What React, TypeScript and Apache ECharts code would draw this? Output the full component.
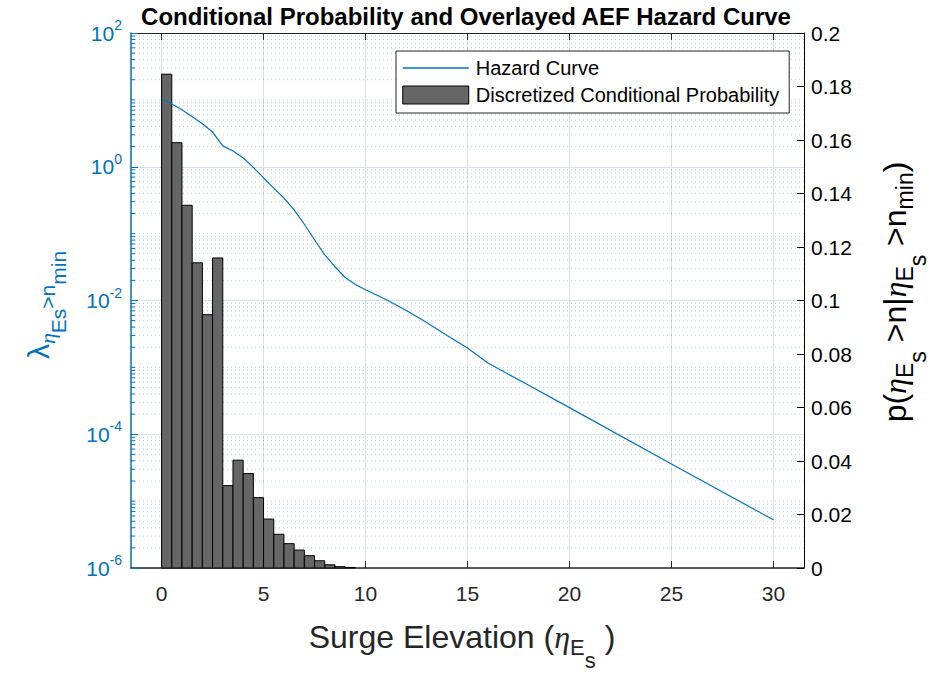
import React, { useEffect, useRef } from "react";
import * as echarts from "echarts";

// ---- data ----
const binLeftEdges = [0, 0.5, 1, 1.5, 2, 2.5, 3, 3.5, 4, 4.5, 5, 5.5, 6, 6.5, 7, 7.5, 8, 8.5, 9];
const binWidth = 0.5;
const condProb = [0.1846, 0.159, 0.1356, 0.1141, 0.0947, 0.1159, 0.0308, 0.0403, 0.0353, 0.0263, 0.0183, 0.0126, 0.0091, 0.0067, 0.0046, 0.0027, 0.0012, 0.0005, 0.0002];

const hazardX = [0, 0.5, 1, 1.5, 2, 2.5, 3, 3.5, 4, 4.5, 5, 5.5, 6, 6.5, 7, 7.5, 8, 8.5, 9, 9.5, 10, 11, 12, 13, 14, 15, 16, 18, 20, 25, 30];
const hazardY = [10.5, 8.7, 7.1, 5.6, 4.4, 3.3, 2.05, 1.72, 1.35, 0.98, 0.68, 0.48, 0.34, 0.226, 0.138, 0.081, 0.048, 0.032, 0.0221, 0.0174, 0.0145, 0.01035, 0.0071, 0.00468, 0.003, 0.00195, 0.00116, 0.00054, 0.00025, 0.000036, 0.00000525];

const xTickValues = [0, 5, 10, 15, 20, 25, 30];
const minorMantissas = [2, 3, 4, 5, 6, 7, 8, 9];
const decades = [-6, -5, -4, -3, -2, -1, 0, 1];

const BLUE = "#0072BD";
const FONT = "'Liberation Sans', Arial, sans-serif";
const SERIF = "'Liberation Serif', serif";
const X_MIN = -1.5;
const X_MAX = 31.5;

export default function App() {
  const ref = useRef<HTMLDivElement>(null);
  useEffect(() => {
    document.body.style.margin = "0";
    if (!ref.current) return;
    const chart = echarts.init(ref.current, null, { renderer: "svg" });

    const histData = binLeftEdges.map((x0, i) => [x0, x0 + binWidth, condProb[i]]);
    const hazardData = hazardX.map((x, i) => [x, hazardY[i]]);
    const minorData: number[][] = [];
    decades.forEach((d) => {
      if (d % 2 !== 0) minorData.push([0, Math.pow(10, d), 1]);
      minorMantissas.forEach((m) => minorData.push([0, m * Math.pow(10, d), 0]));
    });

    const option: any = {
      animation: false,
      backgroundColor: "#ffffff",
      textStyle: { fontFamily: FONT },
      grid: { left: 131, top: 33, width: 673, height: 535, containLabel: false },
      legend: {
        orient: "vertical",
        left: 396,
        top: 51,
        padding: [7, 10, 8, 6],
        itemGap: 7,
        itemWidth: 66,
        itemHeight: 18,
        borderColor: "#262626",
        borderWidth: 1,
        backgroundColor: "#ffffff",
        textStyle: { fontSize: 20, color: "#000", fontFamily: FONT, padding: [0, 0, 0, 2] },
        data: [
          {
            name: "Hazard Curve",
            itemStyle: { color: "rgba(0,0,0,0)", borderColor: "rgba(0,0,0,0)", borderWidth: 0 },
            lineStyle: { color: BLUE, width: 1.5 },
          },
          { name: "Discretized Conditional Probability", icon: "rect", itemStyle: { color: "#666666", borderColor: "#000", borderWidth: 1 } },
        ],
      },
      xAxis: [
        {
          type: "value",
          min: X_MIN,
          max: X_MAX,
          splitNumber: 7,
          position: "bottom",
          axisLine: { show: true, onZero: false, lineStyle: { color: "#262626", width: 1.5 } },
          axisTick: { show: true, inside: true, length: 7, customValues: xTickValues, lineStyle: { color: "#262626" } },
          axisLabel: {
            customValues: xTickValues,
            fontSize: 21,
            color: "#262626",
            margin: 15,
            fontFamily: FONT,
            formatter: (v: number) => (xTickValues.includes(Math.round(v * 100) / 100) ? String(Math.round(v)) : ""),
          },
          splitLine: { show: true, lineStyle: { color: "#dfdfdf", width: 1 } },
        },
        {
          type: "value",
          min: X_MIN,
          max: X_MAX,
          splitNumber: 7,
          position: "top",
          axisLine: { show: true, onZero: false, lineStyle: { color: "#262626", width: 1 } },
          axisTick: { show: true, inside: true, length: 7, customValues: xTickValues, lineStyle: { color: "#262626" } },
          axisLabel: { show: false },
          splitLine: { show: false },
        },
      ],
      yAxis: [
        {
          type: "log",
          logBase: 10,
          min: 1e-6,
          max: 100,
          interval: 2,
          position: "left",
          axisLine: { show: true, onZero: false, lineStyle: { color: BLUE, width: 1.5 } },
          axisTick: { show: true, inside: true, length: 7, lineStyle: { color: BLUE } },
          axisLabel: {
            margin: 9,
            formatter: (v: number) => `{b|10}{s|${Math.round(Math.log10(v))}}`,
            rich: {
              b: { fontSize: 21, color: BLUE, fontFamily: FONT },
              s: { fontSize: 14, color: BLUE, fontFamily: FONT, padding: [0, 0, 16, 0] },
            },
          },
          splitLine: { show: true, lineStyle: { color: "#d3e2ee", width: 1 } },
        },
        {
          type: "value",
          min: 0,
          max: 0.2,
          interval: 0.02,
          position: "right",
          axisLine: { show: true, onZero: false, lineStyle: { color: "#000", width: 1 } },
          axisTick: { show: true, inside: true, length: 7, lineStyle: { color: "#000" } },
          axisLabel: {
            margin: 7,
            fontSize: 21,
            color: "#000",
            fontFamily: FONT,
            formatter: (v: number) => String(parseFloat(v.toFixed(4))),
          },
          splitLine: { show: false },
        },
      ],
      series: [
        {
          type: "custom",
          name: "minorGrid",
          silent: true,
          xAxisIndex: 0,
          yAxisIndex: 0,
          z: 1,
          clip: false,
          encode: { x: 0, y: 1 },
          data: minorData,
          renderItem: (params: any, api: any) => {
            const v = api.value(1);
            const p0 = api.coord([X_MIN, v]);
            const p1 = api.coord([X_MAX, v]);
            return {
              type: "group",
              children: [
                {
                  type: "line",
                  shape: { x1: p0[0], y1: p0[1], x2: p1[0], y2: p1[1] },
                  style: { stroke: "rgba(0,114,189,0.3)", lineWidth: 1, lineDash: [1, 3] },
                },
                {
                  type: "line",
                  shape: { x1: p0[0], y1: p0[1], x2: p0[0] + 4, y2: p0[1] },
                  style: { stroke: BLUE, lineWidth: 1 },
                },
              ],
            };
          },
        },
        {
          type: "custom",
          name: "Discretized Conditional Probability",
          xAxisIndex: 0,
          yAxisIndex: 1,
          z: 3,
          encode: { x: [0, 1], y: 2 },
          itemStyle: { color: "#666666" },
          data: histData,
          renderItem: (params: any, api: any) => {
            const a = api.coord([api.value(0), api.value(2)]);
            const b = api.coord([api.value(1), 0]);
            return {
              type: "rect",
              shape: { x: a[0], y: a[1], width: b[0] - a[0], height: b[1] - a[1] },
              style: { fill: "#666666", stroke: "#000", lineWidth: 1 },
            };
          },
        },
        {
          type: "line",
          name: "Hazard Curve",
          xAxisIndex: 0,
          yAxisIndex: 0,
          z: 4,
          symbol: "none",
          showSymbol: false,
          lineStyle: { color: BLUE, width: 1.2 },
          itemStyle: { color: BLUE },
          data: hazardData,
        },
      ],
      graphic: [
        {
          type: "text",
          x: 466,
          y: 16,
          style: {
            text: "Conditional Probability and Overlayed AEF Hazard Curve",
            font: `bold 24px ${FONT}`,
            fill: "#000",
            align: "center",
            verticalAlign: "middle",
          },
        },
        {
          type: "text",
          x: 462,
          y: 637,
          style: {
            text: "{a|Surge Elevation (}{h|η}{e|E}{s|s}{a| )}",
            align: "center",
            verticalAlign: "middle",
            fill: "#262626",
            rich: {
              a: { fontSize: 32, fontFamily: FONT, fill: "#262626" },
              h: { fontSize: 32, fontFamily: SERIF, fontStyle: "italic", fill: "#262626" },
              e: { fontSize: 22, fontFamily: FONT, fill: "#262626", padding: [20, 0, 0, 0] },
              s: { fontSize: 22, fontFamily: FONT, fill: "#262626", padding: [46, 0, 0, 0] },
            },
          },
        },
        {
          type: "text",
          x: 38,
          y: 305,
          rotation: Math.PI / 2,
          style: {
            text: "{l|λ}{h|η}{e|Es}{g|>n}{m|min}",
            align: "center",
            verticalAlign: "middle",
            fill: BLUE,
            rich: {
              l: { fontSize: 30, fontFamily: FONT, fill: BLUE },
              h: { fontSize: 22, fontFamily: SERIF, fontStyle: "italic", fill: BLUE, padding: [18, 0, 0, 0] },
              e: { fontSize: 21, fontFamily: FONT, fill: BLUE, padding: [40, 0, 0, 0] },
              g: { fontSize: 21, fontFamily: FONT, fill: BLUE, padding: [18, 0, 0, 0] },
              m: { fontSize: 21, fontFamily: FONT, fill: BLUE, padding: [40, 0, 0, 0] },
            },
          },
        },
        {
          type: "text",
          x: 895,
          y: 292,
          rotation: Math.PI / 2,
          style: {
            text: "{a|p(}{h|η}{e|E}{s|s}{a| >n|}{h|η}{e|E}{s|s}{a| >n}{e|min}{a|)}",
            align: "center",
            verticalAlign: "middle",
            fill: "#000",
            rich: {
              a: { fontSize: 32, fontFamily: FONT, fill: "#000" },
              h: { fontSize: 32, fontFamily: SERIF, fontStyle: "italic", fill: "#000" },
              e: { fontSize: 23, fontFamily: FONT, fill: "#000", padding: [20, 0, 0, 0] },
              s: { fontSize: 23, fontFamily: FONT, fill: "#000", padding: [46, 0, 0, 0] },
            },
          },
        },
      ],
    };
    chart.setOption(option);
    return () => chart.dispose();
  }, []);
  return <div ref={ref} style={{ width: 932, height: 677 }} />;
}
